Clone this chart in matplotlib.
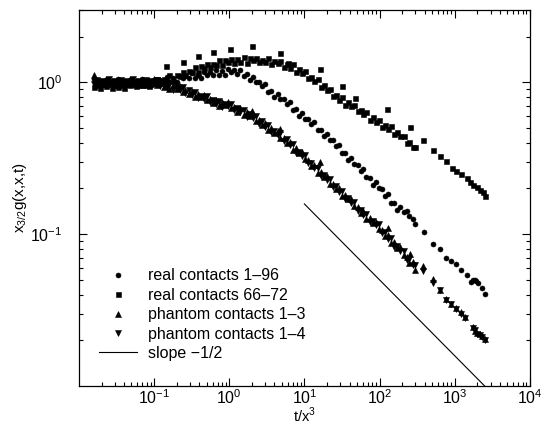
import numpy as np
import matplotlib
matplotlib.use("Agg")
import matplotlib.pyplot as plt
from matplotlib.legend_handler import HandlerLine2D
from matplotlib.ticker import FixedLocator, LogLocator, NullFormatter, LogFormatterSciNotation

plt.rcParams["font.family"] = ["Liberation Sans", "DejaVu Sans"]
plt.rcParams["font.size"] = 11

# scaled time t/x^3, shared by the dense part of every data set
t_dense = [
    0.016, 0.0175, 0.019, 0.021, 0.023, 0.025, 0.0275, 0.03, 0.033, 0.036,
    0.04, 0.044, 0.048, 0.053, 0.058, 0.064, 0.07, 0.077, 0.085, 0.093,
    0.1, 0.11, 0.12, 0.135, 0.15, 0.16, 0.18, 0.2, 0.22, 0.24,
    0.26, 0.29, 0.32, 0.35, 0.38, 0.42, 0.46, 0.5, 0.55, 0.6,
    0.66, 0.73, 0.8, 0.88, 0.97, 1.06, 1.17, 1.28, 1.4, 1.55,
    1.7, 1.87, 2.05, 2.25, 2.5, 2.7, 3.0, 3.3, 3.6, 4.0,
    4.4, 4.8, 5.3, 5.8, 6.4, 7.0, 7.7, 8.5, 9.3, 10.2,
    11.2, 12.3, 13.5, 15, 16.5, 18, 20, 22, 24, 26,
    29, 32, 35, 38, 42, 46, 51, 56, 61, 67,
    74, 81, 89, 98, 108, 118, 130, 143, 157, 173,
    190, 210, 230, 250, 275, 300,
]

# real contacts 1-96 (circles)
real196_y = [
    1.047, 0.966, 1.012, 0.955, 1.035, 0.989, 1.023, 0.977, 1.047, 0.966,
    1.012, 0.955, 1.035, 0.989, 1.023, 0.977, 1.047, 0.966, 1.012, 0.955,
    1.035, 0.995, 1.038, 1.0, 1.081, 1.002, 1.059, 1.009, 1.102, 1.059,
    1.104, 1.064, 1.148, 1.067, 1.122, 1.064, 1.161, 1.114, 1.161, 1.114,
    1.202, 1.117, 1.178, 1.117, 1.216, 1.161, 1.197, 1.138, 1.208, 1.099,
    1.125, 1.030, 1.086, 1.007, 1.007, 0.938, 0.970, 0.867, 0.881, 0.802,
    0.841, 0.780, 0.778, 0.718, 0.741, 0.658, 0.662, 0.600, 0.625, 0.575,
    0.575, 0.530, 0.547, 0.484, 0.486, 0.442, 0.457, 0.418, 0.416, 0.383,
    0.388, 0.341, 0.341, 0.309, 0.319, 0.291, 0.286, 0.261, 0.268, 0.236,
    0.235, 0.212, 0.219, 0.200, 0.197, 0.179, 0.183, 0.161, 0.161, 0.145,
    0.151, 0.139, 0.141, 0.131, 0.126, 0.117,
]
real196_tail_t = [389, 507, 631, 759, 881, 1035, 1230, 1445, 1660, 1760, 1860, 1950, 2040, 2290, 2510]
real196_tail_y = [0.104, 0.0867, 0.0794, 0.0701, 0.0665, 0.064, 0.0578, 0.0535, 0.0483,
                  0.0495, 0.0501, 0.049, 0.0475, 0.0444, 0.0405]

# real contacts 66-72 (squares)
real6672_y = [
    0.933, 1.0, 0.912, 0.977, 0.944, 0.989, 0.923, 0.966, 0.933, 1.005,
    0.920, 0.991, 0.959, 1.009, 0.944, 0.993, 0.964, 1.035, 0.948, 1.021,
    0.989, 1.047, 0.986, 1.05, 1.026, 1.109, 1.026, 1.119, 1.102, 1.169,
    1.109, 1.183, 1.164, 1.265, 1.169, 1.274, 1.247, 1.324, 1.253, 1.327,
    1.294, 1.40, 1.291, 1.396, 1.361, 1.432, 1.343, 1.413, 1.368, 1.472,
    1.346, 1.445, 1.393, 1.452, 1.352, 1.41, 1.352, 1.442, 1.309, 1.39,
    1.33, 1.377, 1.268, 1.309, 1.242, 1.309, 1.169, 1.222, 1.156, 1.18,
    1.072, 1.091, 1.023, 1.054, 0.929, 0.962, 0.891, 0.897, 0.809, 0.822,
    0.769, 0.8, 0.711, 0.741, 0.695, 0.71, 0.643, 0.653, 0.617, 0.64,
    0.564, 0.586, 0.55, 0.56, 0.509, 0.521, 0.492, 0.514, 0.458, 0.473,
    0.44, 0.443, 0.398, 0.403, 0.376, 0.372,
]
real6672_tail_t = [380, 507, 631, 759, 912, 1047, 1230, 1445, 1585, 1778, 1995, 2188, 2399, 2541]
real6672_tail_y = [0.415, 0.356, 0.329, 0.301, 0.272, 0.261, 0.249, 0.234, 0.219, 0.211,
                   0.204, 0.195, 0.188, 0.177]
real6672_out_t = [0.144, 0.24, 0.38, 0.6, 1.02, 1.98, 4.72, 6.1, 16, 32, 47, 126, 251]
real6672_out_y = [1.28, 1.35, 1.48, 1.58, 1.65, 1.72, 1.57, 1.33, 1.22, 0.94, 0.79, 0.67, 0.506]

# phantom contacts 1-3 (up triangles)
phantom13_y = [
    1.122, 0.955, 1.023, 0.989, 1.047, 0.977, 1.012, 0.966, 1.035, 0.955,
    1.023, 0.989, 1.047, 0.977, 1.012, 0.966, 1.035, 0.955, 1.023, 0.989,
    1.047, 0.966, 0.991, 0.931, 0.986, 0.902, 0.953, 0.906, 0.944, 0.869,
    0.889, 0.834, 0.879, 0.796, 0.839, 0.794, 0.826, 0.759, 0.771, 0.726,
    0.767, 0.698, 0.739, 0.705, 0.736, 0.675, 0.684, 0.64, 0.673, 0.607,
    0.637, 0.60, 0.617, 0.558, 0.56, 0.521, 0.54, 0.482, 0.501, 0.466,
    0.478, 0.432, 0.432, 0.397, 0.406, 0.36, 0.369, 0.341, 0.347, 0.31,
    0.306, 0.28, 0.287, 0.251, 0.258, 0.239, 0.241, 0.215, 0.214, 0.197,
    0.201, 0.177, 0.182, 0.169, 0.17, 0.152, 0.15, 0.137, 0.141, 0.125,
    0.128, 0.119, 0.121, 0.108, 0.107, 0.0973, 0.0991, 0.0869, 0.0887, 0.0815,
    0.0822, 0.0724, 0.0711, 0.0649, 0.0659, 0.058,
]
phantom13_out_t = [1.98, 4.7, 16, 130, 251]
phantom13_out_y = [0.65, 0.49, 0.30, 0.109, 0.074]

# phantom contacts 1-4 (down triangles)
phantom14_y = [
    0.977, 1.035, 0.955, 1.012, 0.989, 1.047, 0.966, 1.023, 0.977, 1.035,
    0.955, 1.012, 0.989, 1.047, 0.966, 1.023, 0.977, 1.035, 0.955, 1.012,
    0.989, 1.035, 0.946, 0.986, 0.931, 0.977, 0.889, 0.927, 0.891, 0.931,
    0.849, 0.883, 0.83, 0.863, 0.783, 0.813, 0.78, 0.813, 0.736, 0.769,
    0.724, 0.757, 0.69, 0.721, 0.695, 0.723, 0.653, 0.678, 0.635, 0.658,
    0.594, 0.614, 0.582, 0.598, 0.535, 0.552, 0.509, 0.522, 0.468, 0.476,
    0.451, 0.462, 0.412, 0.421, 0.384, 0.39, 0.344, 0.349, 0.327, 0.332,
    0.292, 0.296, 0.271, 0.272, 0.24, 0.244, 0.228, 0.23, 0.204, 0.208,
    0.19, 0.192, 0.169, 0.173, 0.161, 0.163, 0.143, 0.145, 0.133, 0.136,
    0.12, 0.122, 0.114, 0.116, 0.102, 0.103, 0.0935, 0.0942, 0.0828, 0.0834,
    0.0776, 0.0776, 0.0679, 0.0687, 0.0622, 0.0628,
]

phantom_tail_t = [380, 507, 631, 759, 881, 1035, 1200, 1365, 1740, 1850, 2000, 2150, 2290, 2510]
phantom13_tail_y = [0.062, 0.051, 0.0426, 0.0375, 0.0344, 0.0327, 0.0306, 0.0286, 0.0245,
                    0.023, 0.0224, 0.022, 0.0214, 0.0205]
phantom14_tail_y = [0.057, 0.048, 0.0426, 0.037, 0.0344, 0.032, 0.030, 0.028, 0.024,
                    0.0235, 0.022, 0.0215, 0.021, 0.02]

# reference power law, slope -1/2
slope_t = [10, 3000]
slope_y = [0.158, 0.00913]


class MarkerAtEnd(HandlerLine2D):
    # put the legend marker at the right end of the handle, like the original
    def get_xdata(self, legend, xdescent, ydescent, width, height, fontsize):
        xdata, _ = super().get_xdata(legend, xdescent, ydescent, width, height, fontsize)
        return xdata, np.array([width - xdescent])


fig = plt.figure(figsize=(5.44, 4.26), dpi=100)
ax = fig.add_axes([0.145, 0.094, 0.829, 0.883])

mk = dict(ls="none", color="black", mec="black", mew=0.4)

ax.plot(t_dense + real196_tail_t, real196_y + real196_tail_y, marker="o", ms=3.6,
        label="real contacts 1\u201396", **mk)
ax.plot(t_dense + real6672_tail_t + real6672_out_t, real6672_y + real6672_tail_y + real6672_out_y,
        marker="s", ms=3.6, label="real contacts 66\u201372", **mk)
ax.plot(t_dense + phantom_tail_t + phantom13_out_t, phantom13_y + phantom13_tail_y + phantom13_out_y,
        marker="^", ms=4.4, label="phantom contacts 1\u20133", **mk)
ax.plot(t_dense + phantom_tail_t, phantom14_y + phantom14_tail_y, marker="v", ms=4.4,
        label="phantom contacts 1\u20134", **mk)
ax.plot(slope_t, slope_y, color="black", lw=0.8, label="slope \u22121/2")

ax.set_xscale("log")
ax.set_yscale("log")
ax.set_xlim(1e-2, 1e4)
ax.set_ylim(1e-2, 3)

ax.xaxis.set_major_locator(FixedLocator([1e-1, 1e0, 1e1, 1e2, 1e3, 1e4]))
ax.yaxis.set_major_locator(FixedLocator([1e-1, 1e0]))
ax.xaxis.set_major_formatter(LogFormatterSciNotation())
ax.yaxis.set_major_formatter(LogFormatterSciNotation())
for axis in (ax.xaxis, ax.yaxis):
    axis.set_minor_locator(LogLocator(base=10, subs=np.arange(2, 10), numticks=30))
    axis.set_minor_formatter(NullFormatter())

ax.tick_params(which="both", direction="in", top=True, right=True, width=0.8, labelsize=11.5)
ax.tick_params(which="major", length=6)
ax.tick_params(which="minor", length=3)
ax.tick_params(axis="x", which="major", pad=2)
ax.tick_params(axis="y", which="major", pad=12)
for sp in ax.spines.values():
    sp.set_linewidth(0.9)

ax.set_xlabel(r"t/x$^{\mathdefault{3}}$", fontsize=10.5, va="bottom")
ax.xaxis.set_label_coords(0.5, -0.104)
ax.set_ylabel(r"x$_{\mathdefault{3/2}}$g(x,x,t)", fontsize=11, labelpad=1)

leg = ax.legend(loc="lower left", bbox_to_anchor=(0.027, 0.045), frameon=False, borderpad=0,
                handlelength=2.4, handletextpad=0.65, labelspacing=0.28, numpoints=1,
                fontsize=11.5, handler_map={matplotlib.lines.Line2D: MarkerAtEnd()})

fig.savefig("out.png", dpi=100, facecolor="white")
